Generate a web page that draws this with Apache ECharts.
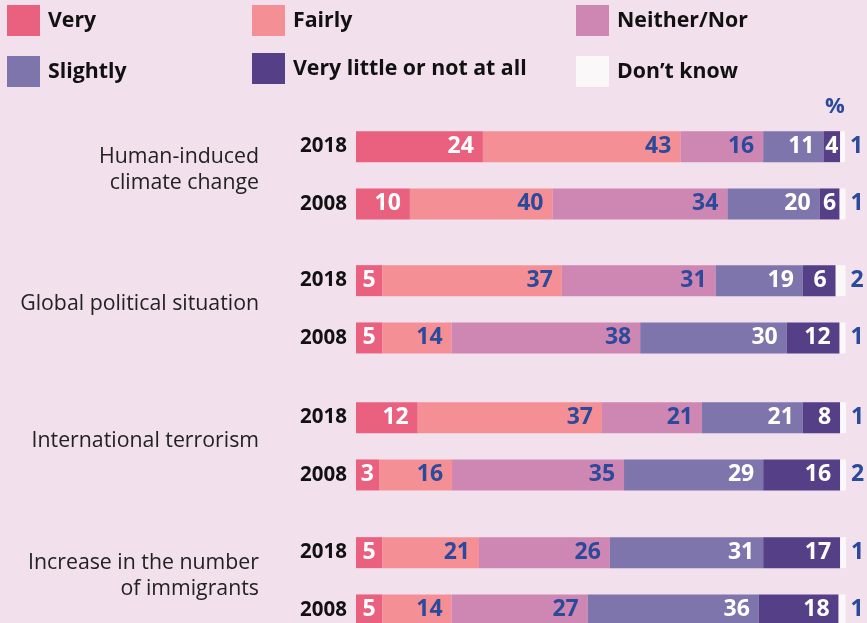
<!DOCTYPE html>
<html>
<head>
<meta charset="utf-8">
<script src="https://cdn.jsdelivr.net/npm/echarts@6/dist/echarts.min.js"></script>
<style>
  html, body { margin: 0; padding: 0; background: #f2e0ec; }
  #chart { width: 867px; height: 623px; }
</style>
</head>
<body>
<div id="chart"></div>
<script>
// topics, top to bottom; each one has a 2018 and a 2008 bar
const topics = ['Human-induced\nclimate change', 'Global political situation', 'International terrorism', 'Increase in the number\nof immigrants']
const years = ['2018', '2008']

// bar lengths (% of the full bar), rows in order:
// climate 2018, climate 2008, political 2018, political 2008, terrorism 2018, terrorism 2008, immigrants 2018, immigrants 2008
const veryBar = [25.9, 11.0, 5.4, 5.4, 12.6, 4.7, 5.4, 5.4]
const fairlyBar = [40.3, 29.1, 36.6, 14.1, 37.6, 14.9, 19.7, 14.1]
const neitherBar = [16.9, 35.7, 31.4, 38.5, 20.4, 35.1, 26.7, 27.8]
const slightlyBar = [12.3, 18.8, 17.8, 29.9, 20.6, 28.4, 31.3, 34.9]
const littleBar = [3.4, 4.1, 6.7, 10.8, 7.6, 15.7, 15.7, 16.3]
const dontKnowBar = [1.0, 1.2, 2.0, 1.2, 1.2, 1.2, 1.2, 1.4]

// numbers printed on the bars
const veryTxt = [24, 10, 5, 5, 12, 3, 5, 5]
const fairlyTxt = [43, 40, 37, 14, 37, 16, 21, 14]
const neitherTxt = [16, 34, 31, 38, 21, 35, 26, 27]
const slightlyTxt = [11, 20, 19, 30, 21, 29, 31, 36]
const littleTxt = [4, 6, 6, 12, 8, 16, 17, 18]
const dontKnowTxt = [1, 1, 2, 1, 1, 2, 1, 1]

const segNames = ['Very', 'Fairly', 'Neither/Nor', 'Slightly', 'Very little or not at all', 'Don\u2019t know']
const segBars = [veryBar, fairlyBar, neitherBar, slightlyBar, littleBar, dontKnowBar]
const segTxt = [veryTxt, fairlyTxt, neitherTxt, slightlyTxt, littleTxt, dontKnowTxt]
const segColors = ['#e9617f', '#f48f96', '#ce86b2', '#7e75ad', '#554087', '#fbf8fa']
const segLabelColors = ['#fff', '#2b4a9b', '#2b4a9b', '#fff', '#fff', '#2b4a9b']

const blue = '#2b4a9b'
const font = '"Open Sans", "Noto Sans", sans-serif'
const pxPerUnit = 4.9 // grid width 490px for 100 units
const gridTops = [118, 252, 389, 524]

let grids = []
let xAxes = []
let yAxes = []
let series = []

gridTops.forEach((top, g) => {
  // topic lines as rich text, plus a short empty line so the block sits a bit above the pair's middle
  let topicRich = topics[g].split('\n').map(l => '{t|' + l + '}').join('\n') + '\n{gap|}'
  grids.push({ left: 356, width: 490, top: top, height: 114.6, containLabel: false, outerBoundsMode: 'none' })
  xAxes.push({ gridIndex: g, type: 'value', min: 0, max: 100, show: false })
  yAxes.push({
    gridIndex: g,
    type: 'category',
    data: years,
    inverse: true,
    axisLine: { show: false },
    axisTick: { show: false },
    splitLine: { show: false },
    axisLabel: { margin: 9, color: '#111', fontSize: 20.5, fontWeight: 'bold', fontFamily: font },
    name: topicRich,
    nameLocation: 'middle',
    nameRotate: 0,
    nameGap: 97,
    nameTextStyle: {
      rich: {
        t: { color: '#222', fontSize: 21.3, fontFamily: font, lineHeight: 26 },
        gap: { fontSize: 4, lineHeight: 10 }
      }
    }
  })
  segNames.forEach((name, s) => {
    let rows = [2 * g, 2 * g + 1]
    series.push({
      type: 'bar',
      name: name,
      stack: 'g' + g,
      xAxisIndex: g,
      yAxisIndex: g,
      barWidth: 31,
      silent: true,
      itemStyle: { color: segColors[s] },
      label: {
        show: true,
        position: s === 5 ? 'right' : 'insideRight',
        color: segLabelColors[s],
        fontSize: 23,
        fontWeight: 'bold',
        fontFamily: font
      },
      data: rows.map(r => {
        let v = segBars[s][r]
        let t = String(segTxt[s][r])
        let d = 5
        if (s < 5) {
          let room = (v * pxPerUnit - t.length * 13) / 2
          d = Math.max(0, Math.min(9, room))
        }
        return { value: v, label: { formatter: t, distance: d } }
      })
    })
  })
})

const legendText = { color: '#111', fontSize: 21.3, fontWeight: 'bold', fontFamily: font, padding: [0, 0, 0, 3] }
const legendBase = { orient: 'vertical', icon: 'rect', itemWidth: 33, itemHeight: 31, textStyle: legendText, selectedMode: false, padding: 0 }

const option = {
  backgroundColor: '#f2e0ec',
  animation: false,
  legend: [
    Object.assign({ left: 7, top: 5, itemGap: 20, data: [segNames[0], segNames[3]] }, legendBase),
    Object.assign({ left: 252, top: 5, itemGap: 17, data: [segNames[1], segNames[4]] }, legendBase),
    Object.assign({ left: 576, top: 5, itemGap: 20, data: [segNames[2], segNames[5]] }, legendBase)
  ],
  grid: grids,
  xAxis: xAxes,
  yAxis: yAxes,
  graphic: [{
    type: 'text',
    left: 825,
    top: 96,
    style: { text: '%', fill: blue, fontSize: 22, fontWeight: 'bold', fontFamily: font }
  }],
  series: series
}

let chart = echarts.init(document.getElementById('chart'))
chart.setOption(option)
</script>
</body>
</html>
